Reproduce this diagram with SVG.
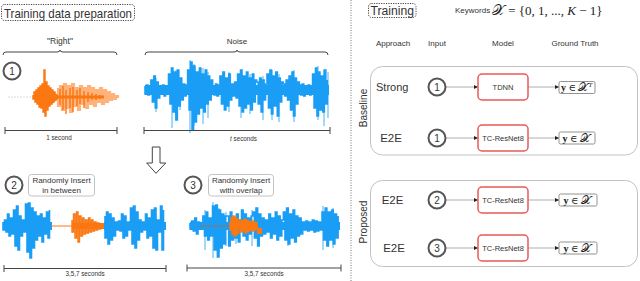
<svg xmlns="http://www.w3.org/2000/svg" width="640" height="281" viewBox="0 0 640 281">
<defs>
<style>
.t{font-family:"Liberation Sans",Arial,sans-serif;fill:#333}
.m{font-family:"Liberation Serif","DejaVu Serif",serif;fill:#222}
.circ{fill:#fff;stroke:#555;stroke-width:2}
.model{fill:#fff;stroke:#e8595b;stroke-width:1.5}
.gt{fill:#fff;stroke:#777;stroke-width:0.8}
.conn path{stroke:#999;stroke-width:0.8;fill:none;marker-end:url(#ah)}
.wb{fill:none;stroke:#1a9ef5;stroke-width:1.6}
.wl{fill:none;stroke:#8ccff8;stroke-width:1.6}
.wo{fill:none;stroke:#fa7712;stroke-width:1.4}
.wlo{fill:none;stroke:#ffb27a;stroke-width:2.2}
.ax{fill:none;stroke:#444;stroke-width:1}
.tag{fill:#fff;stroke:#bbb;stroke-width:0.9}
.group{fill:none;stroke:#bbb;stroke-width:0.9}
.dot{fill:none;stroke:#444;stroke-width:1;stroke-dasharray:1.2 1.2}
</style>
<marker id="ah" viewBox="0 0 10 10" refX="10" refY="5" markerWidth="4.5" markerHeight="4.5" markerUnits="userSpaceOnUse" orient="auto"><path d="M0,0L10,5L0,10z" fill="#222"/></marker>
</defs>
<rect width="640" height="281" fill="#fff"/>

<g id="title-left">
<rect class="dot" x="1.5" y="4.5" width="133" height="16" rx="3"/>
<text class="t" x="4" y="17.5" font-size="13.5" textLength="128" lengthAdjust="spacingAndGlyphs">Training data preparation</text>
</g>

<path id="divider" d="M351 0V281" stroke="#777" stroke-width="1" stroke-dasharray="1 1.5" fill="none"/>

<g id="clip-right">
<text class="t" x="60" y="44" font-size="8.5" text-anchor="middle">"Right"</text>
<path class="ax" d="M3 55Q3 52 6 52H57Q60 52 60 50Q60 52 63 52H114Q117 52 117 55"/>
<path d="M8 97H33" stroke="#e8d8cc" stroke-width="1" stroke-dasharray="2 1"/>
<path class="wlo" d="M58 88V106h2V86h2V110h2V84h2V108h2V86h2V112h2V84h2V106h2V88h2V110h2V86h2V104h2V88h2V108h2V86h2V104h2V88h2V106h2V90h2V102h2V88h2V104h2V90h2V102h2V92h2V100h2V94h2V99h2V96h2V98"/>
<path d="M33 97L40 91L46 85L52 91L58 95V99L52 104L46 109L40 104Z" fill="#fa7712"/>
<path class="wo" d="M33 95V99h1V92h1V102h1V90h1V104h1V88h1V107h1V86h1V108h1V84h1V112h1V70h1V116h1V82h1V110h1V86h1V106h1V88h1V104h1V90h1V102h1V92h1V100h1V94"/>
<path class="wo" stroke-width="1.5" d="M60 89V105M63 86V110M66 90V114M70 88V108M73 87V112M77 90V106M80 88V104M84 91V108M88 92V102M92 93V100M96 94V100M100 95V99"/>
<path d="M58 97H104" stroke="#fa7712" stroke-width="3"/>
<path class="ax" d="M5 130.5H117M5 127V134M117 127V134"/>
<text class="t" x="59" y="140" font-size="6.3" text-anchor="middle">1 second</text>
</g>
<g id="n1">
<circle class="circ" cx="12" cy="71" r="8.5"/>
<text class="t" x="12" y="74.6" font-size="10" text-anchor="middle">1</text>
</g>

<g id="clip-noise">
<text class="t" x="237" y="44" font-size="8" text-anchor="middle">Noise</text>
<path class="ax" d="M145 55Q145 52 148 52H234Q237 52 237 50Q237 52 240 52H325Q328 52 328 55"/>
<path class="wl" d="M156 78V112M172 76V128M176 70V116M180 78V110M190 60V133M194 64V126M203 68V124M208 72V118M229 72V112M241 70V118M250 74V114M263 76V120M272 70V120M279 74V122M294 70V122M318 66V120M324 70V126M328 72V118"/>
<rect x="145" y="85" width="184" height="10" fill="#1a9ef5"/>
<path class="wb" d="M145 86V94h1.47V85h1.47V95h1.47V87h1.47V80h1.47V102h1.47V76h1.47V108h1.47V82h1.47V98h1.47V86h1.47V94h1.47V85h1.47V96h1.47V86h1.47V94h1.47V74h1.47V104h1.47V68h1.47V112h1.47V72h1.47V120h1.47V70h1.47V106h1.47V78h1.47V100h1.47V84h1.47V96h1.47V85h1.47V70h1.47V110h1.47V62h1.47V130h1.47V66h1.47V122h1.47V72h1.47V114h1.47V68h1.47V108h1.47V74h1.47V112h1.47V70h1.47V104h1.47V76h1.47V100h1.47V80h1.47V86h1.47V95h1.47V84h1.47V96h1.47V85h1.47V76h1.47V104h1.47V72h1.47V110h1.47V78h1.47V106h1.47V74h1.47V100h1.47V84h1.47V96h1.47V82h1.47V98h1.47V74h1.47V106h1.47V70h1.47V112h1.47V76h1.47V108h1.47V72h1.47V104h1.47V78h1.47V110h1.47V74h1.47V102h1.47V80h1.47V82h1.47V104h1.47V78h1.47V112h1.47V80h1.47V100h1.47V84h1.47V74h1.47V108h1.47V70h1.47V114h1.47V76h1.47V106h1.47V72h1.47V116h1.47V78h1.47V102h1.47V82h1.47V84h1.47V96h1.47V80h1.47V100h1.47V76h1.47V110h1.47V72h1.47V116h1.47V78h1.47V104h1.47V82h1.47V85h1.47V95h1.47V84h1.47V96h1.47V86h1.47V94h1.47V85h1.47V95h1.47V86h1.47V74h1.47V108h1.47V68h1.47V116h1.47V72h1.47V110h1.47V76h1.47V112h1.47V70h1.47V104h1.47V80"/>
<path class="ax" d="M144 130.5H330M144 127V134M330 127V134"/>
<text class="t" x="243.5" y="141" font-size="6.3" text-anchor="middle"><tspan font-style="italic">t</tspan> seconds</text>
</g>

<path id="down-arrow" d="M152.3 147H160V163H165.7L156 173.3L146.7 163H152.3Z" fill="#fff" stroke="#444" stroke-width="1"/>

<g id="n2">
<circle class="circ" cx="14" cy="185" r="8.5"/>
<text class="t" x="14" y="188.6" font-size="10" text-anchor="middle">2</text>
</g>
<g id="tag2">
<rect class="tag" x="28.5" y="174.5" width="66" height="21.5" rx="3"/>
<text class="t" x="61.5" y="183" font-size="8" text-anchor="middle" fill="#555">Randomly Insert</text>
<text class="t" x="61.5" y="192.8" font-size="8" text-anchor="middle" fill="#555">in between</text>
</g>
<g id="wave2">
<rect x="3" y="222" width="49" height="8" fill="#1a9ef5"/>
<path class="wb" d="M3 222V230h1.5V220h1.5V232h1.5V214h1.5V236h1.5V218h1.5V234h1.5V210h1.5V246h1.5V206h1.5V250h1.5V216h1.5V236h1.5V220h1.5V232h1.5V204h1.5V252h1.5V203h1.5V258h1.5V208h1.5V248h1.5V212h1.5V240h1.5V216h1.5V236h1.5V214h1.5V242h1.5V218h1.5V234h1.5V212h1.5V238h1.5V210"/>
<path d="M51 226H72" stroke="#fa7712" stroke-width="1"/>
<rect x="72" y="223" width="32" height="6" fill="#fa7712"/>
<path class="wo" d="M72 220V232h1.5V214h1.5V238h1.5V212h1.5V242h1.5V216h1.5V236h1.5V218h1.5V234h1.5V220h1.5V233h1.5V218h1.5V232h1.5V220h1.5V231h1.5V222h1.5V230h1.5V223h1.5V229h1.5V224h1.5V228"/>
<rect x="104" y="222" width="62" height="8" fill="#1a9ef5"/>
<path class="wb" d="M105 216V238h1.5V212h1.5V244h1.5V214h1.5V240h1.5V218h1.5V236h1.5V222h1.5V230h1.5V221h1.5V231h1.5V214h1.5V238h1.5V216h1.5V236h1.5V222h1.5V230h1.5V208h1.5V244h1.5V206h1.5V248h1.5V212h1.5V240h1.5V220h1.5V232h1.5V222h1.5V230h1.5V214h1.5V238h1.5V218h1.5V236h1.5V210h1.5V248h1.5V208h1.5V250h1.5V220h1.5V232h1.5V206h1.5V250h1.5V210"/>
<path class="ax" d="M4 268.5H166M4 265V272M166 265V272"/>
<text class="t" x="85" y="276" font-size="6.3" text-anchor="middle">3,5,7 seconds</text>
</g>

<g id="n3">
<circle class="circ" cx="193" cy="185" r="8.5"/>
<text class="t" x="193" y="188.6" font-size="10" text-anchor="middle">3</text>
</g>
<g id="tag3">
<rect class="tag" x="208.5" y="174.5" width="65" height="21.5" rx="3"/>
<text class="t" x="241" y="183" font-size="8" text-anchor="middle" fill="#555">Randomly Insert</text>
<text class="t" x="241" y="192.8" font-size="8" text-anchor="middle" fill="#555">with overlap</text>
</g>
<g id="wave3">
<path class="wl" d="M205 210V250M213 202V258M219 208V252M226 212V246M236 214V244M252 210V246M288 208V246M323 206V250M333 208V248"/>
<rect x="190" y="222" width="150" height="8" fill="#1a9ef5"/>
<path class="wb" d="M190 223V229h1.61V221h1.61V231h1.61V218h1.61V234h1.61V222h1.61V224h1.61V228h1.61V216h1.61V236h1.61V212h1.61V240h1.61V218h1.61V236h1.61V206h1.61V250h1.61V205h1.61V257h1.61V210h1.61V248h1.61V214h1.61V244h1.61V216h1.61V216h1.61V246h1.61V212h1.61V240h1.61V218h1.61V238h1.61V214h1.61V242h1.61V220h1.61V210h1.61V236h1.61V214h1.61V240h1.61V218h1.61V234h1.61V216h1.61V212h1.61V238h1.61V208h1.61V246h1.61V214h1.61V236h1.61V218h1.61V234h1.61V220h1.61V232h1.61V214h1.61V238h1.61V218h1.61V234h1.61V212h1.61V240h1.61V216h1.61V236h1.61V220h1.61V212h1.61V240h1.61V208h1.61V244h1.61V214h1.61V238h1.61V210h1.61V242h1.61V216h1.61V236h1.61V218h1.61V234h1.61V222h1.61V230h1.61V221h1.61V231h1.61V222h1.61V230h1.61V220h1.61V232h1.61V221h1.61V231h1.61V222h1.61V230h1.61V212h1.61V240h1.61V208h1.61V246h1.61V212h1.61V240h1.61V210h1.61V244h1.61V214h1.61V238h1.61V216"/>
<path d="M200 226H232" stroke="#8a7a70" stroke-width="1.2"/>
<rect x="230" y="223" width="28" height="6" fill="#fa7712"/>
<rect x="257" y="228" width="5" height="6" fill="#fa7712"/>
<path class="wo" d="M230 222V230h1V218h1V234h1V216h1V236h1V217h1V235h1V219h1V233h1V221h1V220h1V232h1V221h1V231h1V219h1V233h1V220h1V232h1V221h1V231h1V222h1V230h1V221h1V231h1V222h1V230h1V223h1V229"/>
<path class="ax" d="M187 268H341M187 264.5V271.5M341 264.5V271.5"/>
<text class="t" x="264" y="276" font-size="6.3" text-anchor="middle">3,5,7 seconds</text>
</g>

<g id="title-right">
<rect class="dot" x="368.5" y="3.5" width="47.5" height="14" rx="3"/>
<text class="t" x="370.5" y="15" font-size="12.5" textLength="43.5" lengthAdjust="spacingAndGlyphs">Training</text>
</g>
<g id="keywords">
<text class="t" x="455" y="13" font-size="8">Keywords</text>
<text class="m" x="492" y="14.5" font-size="13"><tspan font-size="15">𝒳</tspan> = {0, 1, ..., <tspan font-style="italic">K</tspan> − 1}</text>
</g>
<g id="headers" class="t" font-size="8" text-anchor="middle">
<text x="393" y="46">Approach</text>
<text x="437" y="46">Input</text>
<text x="503" y="46">Model</text>
<text x="575" y="46">Ground Truth</text>
</g>

<g id="baseline">
<rect class="group" x="370.5" y="66.5" width="267" height="88.5" rx="12"/>
<text class="t" transform="translate(366.5,108) rotate(-90)" font-size="10" text-anchor="middle">Baseline</text>
</g>
<g id="proposed">
<rect class="group" x="370.5" y="180.5" width="267" height="86" rx="12"/>
<text class="t" transform="translate(366.5,222) rotate(-90)" font-size="10" text-anchor="middle">Proposed</text>
</g>

<g class="conn">
<path d="M446 87H478"/>
<path d="M528 87H559"/>
<path d="M446 138H478"/>
<path d="M528 138H559"/>
<path d="M446 200H478"/>
<path d="M528 200H559"/>
<path d="M446 248H478"/>
<path d="M528 248H559"/>
</g>

<g id="row1">
<text class="t" x="376" y="91" font-size="11">Strong</text>
<g id="r1-in"><circle class="circ" cx="437" cy="87" r="8.5"/><text class="t" x="437" y="90.6" font-size="10" text-anchor="middle">1</text></g>
<g id="r1-model"><rect class="model" x="478" y="74" width="50" height="26" rx="4"/><text class="t" x="503" y="90" font-size="7.5" text-anchor="middle">TDNN</text></g>
<g id="r1-gt"><rect class="gt" x="559" y="81.5" width="36" height="12" rx="1.5"/><text class="m" x="561" y="91" font-size="10"><tspan font-weight="bold">y</tspan> ∈ <tspan font-size="11.5">𝒳</tspan><tspan font-style="italic" font-size="7" dy="-4">T</tspan></text></g>
</g>

<g id="row2">
<text class="t" x="391" y="142" font-size="11.5" text-anchor="middle">E2E</text>
<g id="r2-in"><circle class="circ" cx="437" cy="138" r="8.5"/><text class="t" x="437" y="141.6" font-size="10" text-anchor="middle">1</text></g>
<g id="r2-model"><rect class="model" x="478" y="125" width="50" height="26" rx="4"/><text class="t" x="503" y="141" font-size="7.5" text-anchor="middle">TC-ResNet8</text></g>
<g id="r2-gt"><rect class="gt" x="559" y="132" width="36" height="12" rx="1.5"/><text class="m" x="562.5" y="141.5" font-size="10"><tspan font-weight="bold">y</tspan> ∈ <tspan font-size="11.5">𝒳</tspan></text></g>
</g>

<g id="row3">
<text class="t" x="392.5" y="204" font-size="11.5" text-anchor="middle">E2E</text>
<g id="r3-in"><circle class="circ" cx="437" cy="200" r="8.5"/><text class="t" x="437" y="203.6" font-size="10" text-anchor="middle">2</text></g>
<g id="r3-model"><rect class="model" x="478" y="187" width="50" height="26" rx="4"/><text class="t" x="503" y="203" font-size="7.5" text-anchor="middle">TC-ResNet8</text></g>
<g id="r3-gt"><rect class="gt" x="559" y="194" width="38" height="12" rx="1.5"/><text class="m" x="563.5" y="203.5" font-size="10"><tspan font-weight="bold">y</tspan> ∈ <tspan font-size="11.5">𝒳</tspan></text></g>
</g>

<g id="row4">
<text class="t" x="394" y="252" font-size="11.5" text-anchor="middle">E2E</text>
<g id="r4-in"><circle class="circ" cx="437" cy="248" r="8.5"/><text class="t" x="437" y="251.6" font-size="10" text-anchor="middle">3</text></g>
<g id="r4-model"><rect class="model" x="478" y="235" width="50" height="26" rx="4"/><text class="t" x="503" y="251" font-size="7.5" text-anchor="middle">TC-ResNet8</text></g>
<g id="r4-gt"><rect class="gt" x="559" y="242" width="38" height="12" rx="1.5"/><text class="m" x="563.5" y="251.5" font-size="10"><tspan font-weight="bold">y</tspan> ∈ <tspan font-size="11.5">𝒳</tspan></text></g>
</g>
</svg>
